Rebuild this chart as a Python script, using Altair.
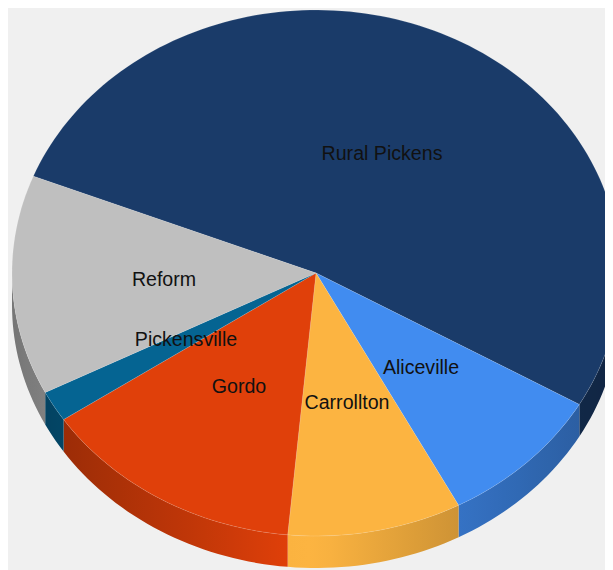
import math
import altair as alt
import pandas as pd

# Slice data (clockwise from the start angle)
names = ["Rural Pickens", "Aliceville", "Carrollton", "Gordo", "Pickensville", "Reform"]
shares = [52.3, 8.9, 9.25, 14.1, 1.9, 13.5]
colors = ["#1a3b69", "#418cf0", "#fcb441", "#e0400a", "#056492", "#bfbfbf"]
label_x = [382, 421, 347, 239, 186, 164]
label_y = [154, 368, 403, 387, 340, 280]

# Layout of the tilted pie, in picture pixels
START = 291.6
CX, CY, RX, RY, DEPTH = 316, 273, 304, 263, 32
SHADE_X = [12, 63, 200, 288, 320, 459, 580, 620]
SHADE_K = [0.62, 0.70, 0.87, 1.0, 1.0, 0.82, 0.68, 0.64]


def pt(a):
    r = math.radians(a)
    return CX + RX * math.sin(r), CY - RY * math.cos(r)


def arc(a0, a1):
    n = max(2, int(abs(a1 - a0) / 1.5) + 1)
    return [pt(a0 + (a1 - a0) * i / n) for i in range(n + 1)]


def shade(x):
    for i in range(len(SHADE_X) - 1):
        if x <= SHADE_X[i + 1]:
            t = (x - SHADE_X[i]) / (SHADE_X[i + 1] - SHADE_X[i])
            return SHADE_K[i] + t * (SHADE_K[i + 1] - SHADE_K[i])
    return SHADE_K[-1]


def tint(hex_colour, k):
    rgb = [int(hex_colour[i:i + 2], 16) for i in (1, 3, 5)]
    return "#%02x%02x%02x" % tuple(int(c * k) for c in rgb)


x_scale = alt.Scale(domain=[8, 605], nice=False, zero=False)
y_scale = alt.Scale(domain=[570, 8], nice=False, zero=False)


def polygon(points, **mark):
    df = pd.DataFrame([{"x": p[0], "y": p[1], "i": i} for i, p in enumerate(points)])
    return alt.Chart(df).mark_line(interpolate="linear-closed", clip=True, **mark).encode(
        x=alt.X("x:Q", scale=x_scale, axis=None),
        y=alt.Y("y:Q", scale=y_scale, axis=None),
        order="i:Q",
    )


walls, tops = [], []
a = START
for name, share, colour in zip(names, shares, colors):
    a0, a1 = a, a + share * 360 / sum(shares)
    a = a1
    tops.append(polygon([(CX, CY)] + arc(a0, a1), fill=colour, stroke="#ffffff",
                        strokeOpacity=0.18, strokeWidth=0.7))
    # the visible part of the rim lies between 90 and 270 degrees
    for lo, hi in ((a0, a1), (a0 - 360, a1 - 360)):
        w0, w1 = max(lo, 90), min(hi, 270)
        if w1 > w0:
            rim = arc(w0, w1)
            outline = rim + [(x, y + DEPTH) for x, y in reversed(rim)]
            xs = [p[0] for p in rim]
            xmin, xmax = min(xs), max(xs)
            stops = []
            for k in range(9):
                xk = xmin + (xmax - xmin) * k / 8
                stops.append(alt.GradientStop(offset=k / 8, color=tint(colour, shade(xk))))
            walls.append(polygon(outline, strokeOpacity=0, fill=alt.LinearGradient(
                gradient="linear", stops=stops, x1=0, x2=1, y1=0, y2=0)))

labels = alt.Chart(pd.DataFrame({"name": names, "x": label_x, "y": label_y})).mark_text(
    font="Liberation Sans", fontSize=19.6, color="#111111", align="center", baseline="middle"
).encode(
    x=alt.X("x:Q", scale=x_scale, axis=None),
    y=alt.Y("y:Q", scale=y_scale, axis=None),
    text="name:N",
)

chart = alt.layer(*walls, *tops, labels).properties(
    width=597, height=562, background="#f0f0f0", padding=0,
    autosize=alt.AutoSizeParams(type="none"),
).configure_view(stroke=None)

chart.save("out.html", embed_options={"renderer": "svg", "actions": False})
